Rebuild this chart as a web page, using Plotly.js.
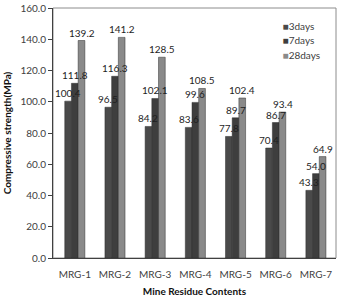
<!DOCTYPE html>
<html>
<head>
<meta charset="utf-8">
<script src="https://cdn.plot.ly/plotly-3.0.1.min.js"></script>
<style>
  html, body { margin: 0; padding: 0; background: #fff; }
  #chart { width: 340px; height: 297px; }
</style>
</head>
<body>
<div id="chart"></div>
<script>
// Compressive strength of mine-residue mixes at three curing ages
const categories = ['MRG-1', 'MRG-2', 'MRG-3', 'MRG-4', 'MRG-5', 'MRG-6', 'MRG-7'];
const days3  = [100.4, 96.5, 84.2, 83.6, 77.8, 70.4, 43.3];
const days7  = [111.8, 116.3, 102.1, 99.6, 89.7, 86.7, 54.0];
const days28 = [139.2, 141.2, 128.5, 108.5, 102.4, 93.4, 64.9];
const seriesNames = ['3days', '7days', '28days'];
const yTicks = [0, 20, 40, 60, 80, 100, 120, 140, 160];

const FONT = 'Lato, "Open Sans", sans-serif';
const TXT = '#404040';
const LABEL = '#1e1e1e';
const colors = ['#4a4a4a', '#3e3e3e', '#8a8a8a'];
const allSeries = [days3, days7, days28];

function series(vals, i) {
  return {
    type: 'bar',
    name: seriesNames[i],
    x: categories,
    y: vals,
    showlegend: false,
    marker: { color: colors[i], line: { color: '#2e2e2e', width: 0.5 } }
  };
}

// legend entries: a small square glyph in the series colour before the name
const legendKeys = ['legend', 'legend2', 'legend3'];
function legendEntry(i) {
  return {
    type: 'scatter', mode: 'markers', legend: legendKeys[i],
    name: '<span style="color:' + colors[i] + '">■</span>' + seriesNames[i],
    x: [null], y: [null],
    marker: { size: 1, color: 'rgba(0,0,0,0)', line: { width: 0 } }
  };
}

const data = allSeries.map(series).concat([0, 1, 2].map(legendEntry));

// value labels above each bar, offset to sit over their own bar in the group
const barPx = 6.8;
const annotations = [];
allSeries.forEach((vals, i) => {
  vals.forEach((v, j) => {
    annotations.push({
      x: categories[j], y: v, xref: 'x', yref: 'y',
      text: v.toFixed(1), showarrow: false,
      yanchor: 'bottom', xanchor: 'center',
      xshift: (i - 1) * barPx, yshift: 0,
      font: { family: FONT, size: 10, color: LABEL }
    });
  });
});

function legendBox(yPos) {
  return {
    x: 0.67, y: yPos, xanchor: 'left', yanchor: 'middle',
    bgcolor: 'rgba(0,0,0,0)', borderwidth: 0,
    font: { family: FONT, size: 10, color: TXT }, itemwidth: 30
  };
}

const layout = {
  width: 340, height: 297,
  margin: { l: 53, r: 4, t: 8, b: 39 },
  paper_bgcolor: '#fff', plot_bgcolor: '#fff',
  barmode: 'group', bargap: 0.5, bargroupgap: 0,
  font: { family: FONT, size: 10, color: TXT },
  showlegend: true,
  legend: legendBox(0.928),
  legend2: legendBox(0.872),
  legend3: legendBox(0.812),
  xaxis: {
    type: 'category',
    showline: true, linecolor: TXT, linewidth: 1,
    ticks: '', showgrid: false, ticklabelstandoff: 7,
    tickfont: { family: FONT, size: 10, color: TXT },
    title: { text: 'Mine Residue Contents', standoff: 19,
             font: { family: FONT, size: 10, color: '#111', weight: 'bold' } }
  },
  yaxis: {
    range: [0, 160], tickvals: yTicks, ticktext: yTicks.map(v => v.toFixed(1)),
    showline: true, linecolor: TXT, linewidth: 1,
    ticks: 'outside', ticklen: 4, tickcolor: TXT,
    showgrid: false, zeroline: false,
    tickfont: { family: FONT, size: 10, color: TXT },
    title: { text: 'Compressive strength(MPa)', standoff: 6,
             font: { family: FONT, size: 10, color: '#111', weight: 'bold' } }
  },
  annotations: annotations,
  shapes: [{
    type: 'rect', xref: 'paper', yref: 'paper', x0: 0, x1: 1, y0: 0, y1: 1,
    line: { color: '#8c8c8c', width: 1 }, layer: 'below'
  }]
};

Plotly.newPlot('chart', data, layout, { displayModeBar: false, staticPlot: true });
</script>
</body>
</html>
